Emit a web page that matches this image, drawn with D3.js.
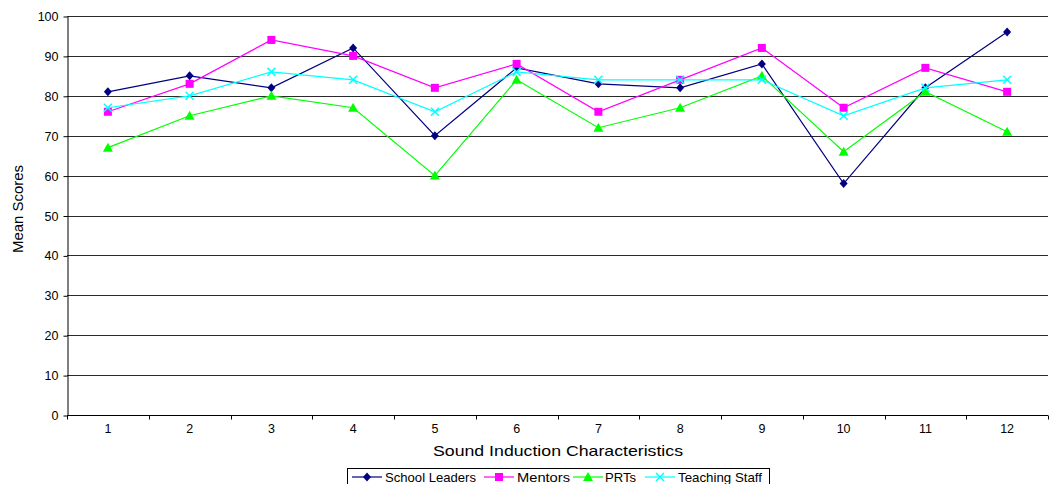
<!DOCTYPE html>
<html>
<head>
<meta charset="utf-8">
<script src="https://cdn.jsdelivr.net/npm/d3@7"></script>
<style>
  html, body { margin: 0; padding: 0; background: #fff; }
  svg { display: block; font-family: "Liberation Sans", Arial, sans-serif; }
</style>
</head>
<body>
<svg id="chart" width="1053" height="484"></svg>
<script>
// Categories (characteristic numbers) and mean scores per group
const categories = ["1","2","3","4","5","6","7","8","9","10","11","12"];
const schoolLeaders = [81, 85, 82, 92, 70, 87, 83, 82, 88, 58, 82, 96];
const mentors       = [76, 83, 94, 90, 82, 88, 76, 84, 92, 77, 87, 81];
const prts          = [67, 75, 80, 77, 60, 84, 72, 77, 85, 66, 81, 71];
const teachingStaff = [77, 80, 86, 84, 76, 86, 84, 84, 84, 75, 82, 84];
const yTicks = [0, 10, 20, 30, 40, 50, 60, 70, 80, 90, 100];

const series = [
  { name: "School Leaders", values: schoolLeaders, color: "#000080", marker: "diamond" },
  { name: "Mentors",        values: mentors,       color: "#FF00FF", marker: "square" },
  { name: "PRTs",           values: prts,          color: "#00FF00", marker: "triangle" },
  { name: "Teaching Staff", values: teachingStaff, color: "#00FFFF", marker: "cross" }
];

const svg = d3.select("#chart");
const plot = { left: 67, right: 1048, top: 16, bottom: 415 };

const x = d3.scaleBand().domain(categories).range([plot.left, plot.right]).padding(0);
const y = d3.scaleLinear().domain([0, 100]).range([plot.bottom, plot.top]);

// Horizontal gridlines
svg.append("g")
  .selectAll("line")
  .data(yTicks.filter(d => d > 0))
  .join("line")
  .attr("x1", plot.left).attr("x2", plot.right)
  .attr("y1", d => Math.round(y(d)) + 0.5).attr("y2", d => Math.round(y(d)) + 0.5)
  .attr("stroke", "#2a2a2a").attr("stroke-width", 1);

// Y axis
const yAxis = svg.append("g")
  .attr("transform", `translate(${plot.left + 0.5},0.5)`)
  .call(d3.axisLeft(y).tickValues(yTicks).tickSize(4).tickSizeOuter(0).tickPadding(5));
yAxis.select(".domain").attr("stroke", "#000");
yAxis.selectAll(".tick line").attr("stroke", "#000");
yAxis.selectAll("text").attr("font-size", 12.5).attr("fill", "#000");

// X axis: ticks sit on category boundaries, labels at band centres
const xAxisG = svg.append("g").attr("transform", `translate(0,${Math.round(plot.bottom) + 0.5})`);
xAxisG.append("line")
  .attr("x1", plot.left).attr("x2", plot.right)
  .attr("stroke", "#000");
const boundaries = categories.map(c => x(c)).concat([x(categories[categories.length - 1]) + x.bandwidth()]);
xAxisG.selectAll("line.tick")
  .data(boundaries)
  .join("line")
  .attr("class", "tick")
  .attr("x1", d => Math.round(d) + 0.5).attr("x2", d => Math.round(d) + 0.5)
  .attr("y1", 0).attr("y2", 4)
  .attr("stroke", "#000");
xAxisG.selectAll("text")
  .data(categories)
  .join("text")
  .attr("x", d => x(d) + x.bandwidth() / 2)
  .attr("y", 17.5)
  .attr("text-anchor", "middle")
  .attr("font-size", 12.5)
  .text(d => d);

// Axis titles
svg.append("text")
  .attr("x", 433)
  .attr("y", 456)
  .attr("font-size", 15)
  .attr("textLength", 250)
  .attr("lengthAdjust", "spacingAndGlyphs")
  .text("Sound Induction Characteristics");

svg.append("text")
  .attr("transform", "translate(23,253) rotate(-90)")
  .attr("font-size", 14)
  .attr("textLength", 88)
  .attr("lengthAdjust", "spacingAndGlyphs")
  .text("Mean Scores");

// Marker drawing
function drawMarker(g, type, color) {
  if (type === "diamond") {
    g.append("path").attr("d", "M0,-4.5L4,0L0,4.5L-4,0Z").attr("fill", color);
  } else if (type === "square") {
    g.append("rect").attr("x", -4).attr("y", -4).attr("width", 8).attr("height", 8).attr("fill", color);
  } else if (type === "triangle") {
    g.append("path").attr("d", "M0,-5L5,4L-5,4Z").attr("fill", color);
  } else if (type === "cross") {
    g.append("path").attr("d", "M-4,-4L4,4M-4,4L4,-4").attr("stroke", color).attr("stroke-width", 1.5).attr("fill", "none");
  }
}

const cx = c => x(c) + x.bandwidth() / 2;
const line = d3.line().x((d, i) => cx(categories[i])).y(d => y(d));

series.forEach(s => {
  const g = svg.append("g");
  g.append("path")
    .datum(s.values)
    .attr("d", line)
    .attr("fill", "none")
    .attr("stroke", s.color)
    .attr("stroke-width", 1.2);
  s.values.forEach((v, i) => {
    const m = g.append("g").attr("transform", `translate(${cx(categories[i])},${y(v)})`);
    drawMarker(m, s.marker, s.color);
  });
});

// Legend
const legend = svg.append("g");
legend.append("rect")
  .attr("x", 347.5).attr("y", 468.5).attr("width", 422).attr("height", 20)
  .attr("fill", "#fff").attr("stroke", "#000");
const legendLineX = [352, 484, 573, 645];
const legendTextX = [385, 517, 605, 678];
const legendTextW = [91, 53, 31, 84];
const legendLineLen = 30;
series.forEach((s, i) => {
  const lg = legend.append("g").attr("transform", `translate(${legendLineX[i]},477)`);
  lg.append("line").attr("x1", 0).attr("x2", legendLineLen).attr("y1", 0).attr("y2", 0)
    .attr("stroke", s.color).attr("stroke-width", 1.2);
  const m = lg.append("g").attr("transform", `translate(${legendLineLen / 2},0)`);
  drawMarker(m, s.marker, s.color);
  legend.append("text")
    .attr("x", legendTextX[i]).attr("y", 481.5)
    .attr("font-size", 13)
    .attr("textLength", legendTextW[i])
    .attr("lengthAdjust", "spacingAndGlyphs")
    .text(s.name);
});
</script>
</body>
</html>
